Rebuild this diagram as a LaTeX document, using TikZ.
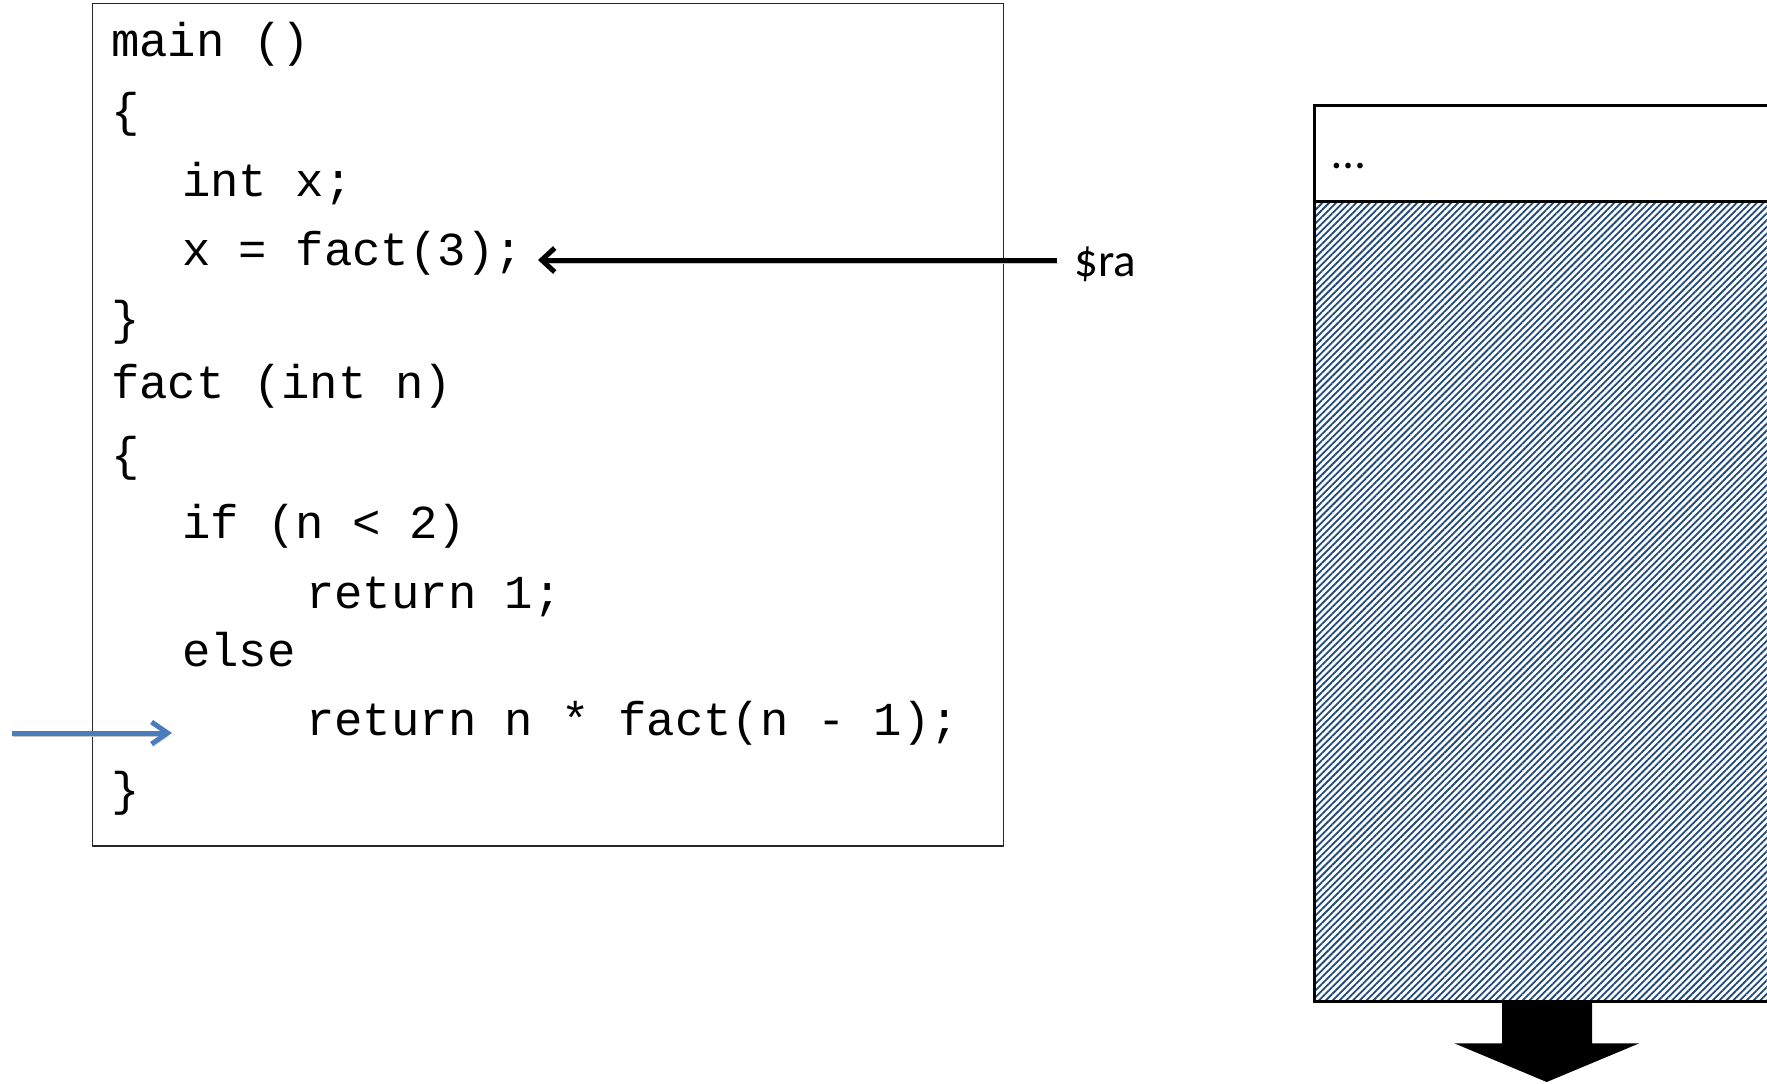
\documentclass[tikz,border=0pt]{standalone}
\usepackage{fontspec}
\setmonofont{Liberation Mono}
\newfontfamily\lblfamily{Carlito}
\usetikzlibrary{arrows.meta,patterns.meta}
\newcommand\cdfont{\ttfamily\fontsize{47.3}{52}\selectfont}
\newcommand\lblfont{\lblfamily\fontsize{47}{50}\selectfont}
\definecolor{pcblue}{RGB}{74,126,187}
\definecolor{hatchblue}{RGB}{31,73,125}

\begin{document}
\begin{tikzpicture}[x=1pt,y=-1pt,
  codeline/.style={anchor=base west, inner sep=0pt, font=\cdfont},
  lbl/.style={anchor=base west, inner sep=0pt, font=\lblfont},
  codebox/.style={draw=black!85, line width=1.6pt},
  stackbox/.style={draw=black, line width=3pt},
  softshadow/.style={preaction={draw=black!22, transform canvas={shift={(1pt,-3pt)}}}},
  raarrow/.style={draw=black, line width=5pt, softshadow,
    -{Straight Barb[length=13pt,width=24pt]}},
  pcarrow/.style={draw=pcblue, line width=5pt, softshadow,
    -{Straight Barb[length=16pt,width=22pt]}},
]
\useasboundingbox (0,0) rectangle (1767,1084);
\clip (0,0) rectangle (1767,1084);

% source listing
\draw[codebox] (92.5,3.5) rectangle (1003.5,846);
\node[codeline] (l1)  at (111,56.7)  {main ()};
\node[codeline] (l2)  at (111,126.5) {\{};
\node[codeline] (l3)  at (182,196.7) {int x;};
\node[codeline] (l4)  at (182,265)   {x = fact(3);};
\node[codeline] (l5)  at (111,334)   {\}};
\node[codeline] (l6)  at (111,398.3) {fact (int n)};
\node[codeline] (l7)  at (111,470)   {\{};
\node[codeline] (l8)  at (182,538.3) {if (n < 2)};
\node[codeline] (l9)  at (306,608.3) {return 1;};
\node[codeline] (l10) at (182,666.7) {else};
\node[codeline] (l11) at (306,735)   {return n * fact(n - 1);};
\node[codeline] (l12) at (111,805)   {\}};

% return address register
\node[lbl] (ra) at (1074,276) {\$ra};
\coordinate (raTail) at (1057,260);
\coordinate (raTip) at (538,260);
\draw[raarrow] (raTail) -- (raTip);

% current line marker
\coordinate (pcTail) at (12,733);
\coordinate (pcTip) at (172,733);
\draw[pcarrow] (pcTail) -- (pcTip);

% stack
\fill[pattern={Lines[angle=45,distance=4.8pt,line width=1.8pt]},
      pattern color=hatchblue] (1314.3,201.7) rectangle (1800,1001.7);
\draw[stackbox] (1314.3,105.7) rectangle (1800,201.7);
\draw[stackbox] (1314.3,201.7) rectangle (1800,1001.7);
\node[lbl] (dots) at (1332,168) {…};

% growth direction
\fill[black] (1502,1001.7) -- (1592,1001.7) -- (1592,1043.3) -- (1639.3,1043.3)
  -- (1546.7,1082) -- (1454.3,1043.3) -- (1502,1043.3) -- cycle;
\end{tikzpicture}
\end{document}
